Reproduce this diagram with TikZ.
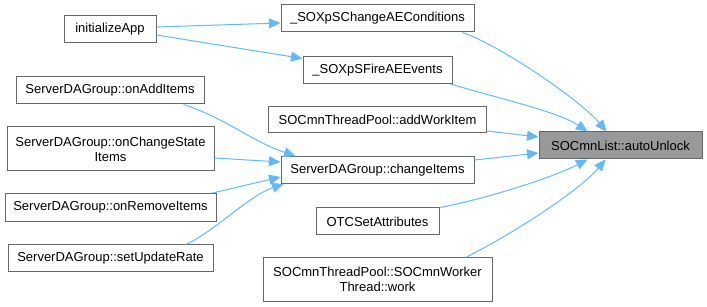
\documentclass[tikz,border=0pt]{standalone}
\usepackage{fontspec}
\setmainfont{Liberation Sans}
\usetikzlibrary{arrows.meta}
\definecolor{edgeblue}{HTML}{63B8FF}
\definecolor{nodeborder}{HTML}{666666}
\definecolor{focusfill}{HTML}{999999}
\begin{document}
\begin{tikzpicture}[x=1pt,y=-1pt,
  fn/.style={draw=nodeborder, line width=1pt, fill=white, inner sep=0pt,
    align=center, font=\fontsize{13}{15}\selectfont},
  focus/.style={fn, fill=focusfill},
  edge/.style={draw=edgeblue, line width=1pt,
    -{Triangle[length=11.5pt,width=10pt]}}]

\useasboundingbox (0,0) rectangle (707,307);

% callers, left column
\node[fn, minimum width=92pt,  minimum height=27pt] (init)  at (110,29.5)  {initializeApp};
\node[fn, minimum width=188pt, minimum height=27pt] (onadd) at (110,90.5)  {ServerDAGroup::onAddItems};
\node[fn, minimum width=207pt, minimum height=44pt] (oncs)  at (110.5,149) {ServerDAGroup::onChangeState\\Items};
\node[fn, minimum width=211pt, minimum height=28pt] (onrem) at (110.5,207.5) {ServerDAGroup::onRemoveItems};
\node[fn, minimum width=205pt, minimum height=27pt] (setur) at (110.5,258.5) {ServerDAGroup::setUpdateRate};

% middle column
\node[fn, minimum width=193pt, minimum height=27pt] (cha)  at (377.5,18.5)  {\_SOXpSChangeAEConditions};
\node[fn, minimum width=149pt, minimum height=27pt] (fire) at (377.5,70)    {\_SOXpSFireAEEvents};
\node[fn, minimum width=218pt, minimum height=26pt] (add)  at (377.5,120)   {SOCmnThreadPool::addWorkItem};
\node[fn, minimum width=193pt, minimum height=27pt] (chg)  at (377.5,170)   {ServerDAGroup::changeItems};
\node[fn, minimum width=123pt, minimum height=27pt] (otc)  at (377.5,221.5) {OTCSetAttributes};
\node[fn, minimum width=229pt, minimum height=43pt] (work) at (377.5,279.5) {SOCmnThreadPool::SOCmnWorker\\Thread::work};

% called function
\node[focus, minimum width=163pt, minimum height=27pt] (auto) at (620.5,145.5) {SOCmnList::autoUnlock};

% calls from the left column
\draw[edge] ([yshift=2.5pt]init.east) -- ([yshift=-4.5pt]cha.west);
\draw[edge] ([yshift=-5.5pt]init.east) -- ([yshift=-2.5pt]fire.north west);
\draw[edge] ([xshift=-21pt]onadd.south east) .. controls +(45,15) and +(-45,-15) .. ([xshift=15pt]chg.north west);
\draw[edge] ([yshift=-9pt]oncs.east) -- ([yshift=8pt]chg.west);
\draw[edge] ([xshift=-4pt]onrem.north east) -- ([yshift=-7pt]chg.west);
\draw[edge] ([xshift=-28pt]setur.north east) .. controls +(25,-10) and +(-35,12) .. ([xshift=3pt]chg.south west);

% calls into autoUnlock
\draw[edge] ([xshift=-12pt]cha.south east) .. controls +(40,14) and +(-25,-30) .. ([xshift=-14pt]auto.north);
\draw[edge] ([xshift=-2pt]fire.south east) .. controls +(50,15) and +(-30,-20) .. ([xshift=-33pt]auto.north);
\draw[edge] ([yshift=-11pt]add.east) -- ([yshift=8.5pt]auto.west);
\draw[edge] ([yshift=10pt]chg.east) -- ([yshift=-7.5pt]auto.west);
\draw[edge] ([xshift=1pt]otc.north east) .. controls +(50,-10) and +(-35,18) .. ([xshift=-33pt]auto.south);
\draw[edge] ([xshift=88pt]work.north) .. controls +(50,-25) and +(-25,30) .. ([xshift=-15pt]auto.south);
\end{tikzpicture}
\end{document}
